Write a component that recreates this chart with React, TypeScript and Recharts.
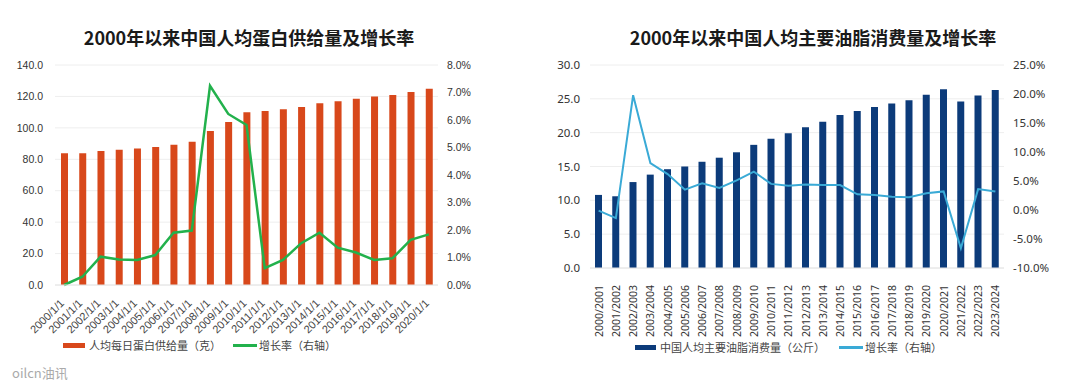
import React from "react"
import {
  ComposedChart,
  Bar,
  Line,
  XAxis,
  YAxis,
  CartesianGrid,
} from "recharts"

// left chart: protein supply per capita
const proteinDates = [
  "2000/1/1", "2001/1/1", "2002/1/1", "2003/1/1", "2004/1/1", "2005/1/1", "2006/1/1",
  "2007/1/1", "2008/1/1", "2009/1/1", "2010/1/1", "2011/1/1", "2012/1/1", "2013/1/1",
  "2014/1/1", "2015/1/1", "2016/1/1", "2017/1/1", "2018/1/1", "2019/1/1", "2020/1/1",
]
const proteinSupply = [
  83.8, 83.8, 85.3, 86.1, 86.8, 87.8, 89.3, 91.2, 98.0, 103.7, 109.9,
  110.7, 111.8, 113.3, 115.6, 116.9, 118.6, 119.9, 120.9, 122.8, 124.9,
]
const proteinGrowth = [
  0.0, 0.3, 1.03, 0.93, 0.91, 1.09, 1.9, 1.98, 7.24, 6.22, 5.82,
  0.61, 0.91, 1.52, 1.9, 1.36, 1.18, 0.91, 0.97, 1.64, 1.84,
]
const proteinLeftTicks = [0, 20, 40, 60, 80, 100, 120, 140]
const proteinRightTicks = [0, 1, 2, 3, 4, 5, 6, 7, 8]

// right chart: edible oil consumption per capita
const oilYears = [
  "2000/2001", "2001/2002", "2002/2003", "2003/2004", "2004/2005", "2005/2006",
  "2006/2007", "2007/2008", "2008/2009", "2009/2010", "2010/2011", "2011/2012",
  "2012/2013", "2013/2014", "2014/2015", "2015/2016", "2016/2017", "2017/2018",
  "2018/2019", "2019/2020", "2020/2021", "2021/2022", "2022/2023", "2023/2024",
]
const oilConsumption = [
  10.8, 10.6, 12.7, 13.8, 14.6, 15.0, 15.7, 16.3, 17.1, 18.2, 19.1, 19.9,
  20.8, 21.6, 22.6, 23.2, 23.8, 24.3, 24.8, 25.6, 26.4, 24.6, 25.5, 26.3,
]
const oilGrowth = [
  -0.1, -1.4, 19.8, 8.1, 6.2, 3.5, 4.6, 3.8, 5.1, 6.6, 4.5, 4.2,
  4.4, 4.3, 4.3, 2.7, 2.6, 2.3, 2.2, 2.9, 3.2, -6.6, 3.6, 3.2,
]
const oilLeftTicks = [0, 5, 10, 15, 20, 25, 30]
const oilRightTicks = [-10, -5, 0, 5, 10, 15, 20, 25]

const proteinData = proteinDates.map((d, i) => ({
  name: d,
  supply: proteinSupply[i],
  growth: proteinGrowth[i],
}))
const oilData = oilYears.map((d, i) => ({
  name: d,
  amount: oilConsumption[i],
  growth: oilGrowth[i],
}))

const ORANGE = "#d8481b"
const GREEN = "#22b14c"
const NAVY = "#0c3b7a"
const SKY = "#3aaad6"

const DiagTick = (props: any) => {
  const { x, y, payload } = props
  return (
    <g transform={`translate(${x - 2},${y + 8})`}>
      <text
        transform="rotate(-45)"
        textAnchor="end"
        dominantBaseline="central"
        fontSize={11}
        fill="#444"
        fontFamily="Liberation Sans, Arial, sans-serif"
      >
        {payload.value}
      </text>
    </g>
  )
}

const VertTick = (props: any) => {
  const { x, y, payload } = props
  return (
    <g transform={`translate(${x},${y + 9})`}>
      <text
        transform="rotate(-90)"
        textAnchor="end"
        dominantBaseline="central"
        fontSize={10.5}
        fill="#333"
        fontFamily="Noto Sans, sans-serif"
      >
        {payload.value}
      </text>
    </g>
  )
}

const titleStyle: React.CSSProperties = {
  position: "absolute",
  top: 24,
  fontFamily: "'Noto Sans CJK SC', sans-serif",
  fontWeight: 700,
  fontSize: 18,
  color: "#1a1a1a",
  whiteSpace: "nowrap",
  transform: "translateX(-50%)",
  lineHeight: "26px",
}

const legendText: React.CSSProperties = {
  fontFamily: "'Noto Sans CJK SC', sans-serif",
  fontSize: 11,
  color: "#444",
  whiteSpace: "nowrap",
}

export default function App() {
  return (
    <div
      style={{
        position: "absolute",
        left: 0,
        top: 0,
        width: 1080,
        height: 387,
        background: "#fff",
        overflow: "hidden",
      }}
    >
      <div style={{ ...titleStyle, left: 249 }}>2000年以来中国人均蛋白供给量及增长率</div>
      <div style={{ ...titleStyle, left: 813 }}>2000年以来中国人均主要油脂消费量及增长率</div>

      {/* Left chart */}
      <div style={{ position: "absolute", left: 0, top: 0 }}>
        <ComposedChart
          width={540}
          height={387}
          data={proteinData}
          margin={{ top: 65, right: 52, bottom: 57, left: 0 }}
          barCategoryGap="60%"
        >
          <CartesianGrid vertical={false} stroke="#eeeeee" yAxisId="left" />
          <XAxis
            dataKey="name"
            interval={0}
            height={45}
            tickLine={false}
            axisLine={{ stroke: "#e4e4e4" }}
            tick={<DiagTick />}
          />
          <YAxis
            yAxisId="left"
            width={55}
            domain={[0, 140]}
            ticks={proteinLeftTicks}
            tickFormatter={(v: number) => v.toFixed(1)}
            axisLine={false}
            tickLine={false}
            tickSize={0}
            tickMargin={12}
            tick={{ fontSize: 10.5, fill: "#333", fontFamily: "Liberation Sans, Arial, sans-serif" }}
          />
          <YAxis
            yAxisId="right"
            orientation="right"
            width={50}
            domain={[0, 8]}
            ticks={proteinRightTicks}
            tickFormatter={(v: number) => v.toFixed(1) + "%"}
            axisLine={false}
            tickLine={false}
            tickSize={0}
            tickMargin={9}
            tick={{ fontSize: 10.5, fill: "#333", fontFamily: "Liberation Sans, Arial, sans-serif" }}
          />
          <Bar yAxisId="left" dataKey="supply" fill={ORANGE} barSize={7} isAnimationActive={false} />
          <Line
            yAxisId="right"
            dataKey="growth"
            stroke={GREEN}
            strokeWidth={2.5}
            dot={false}
            type="linear"
            isAnimationActive={false}
          />
        </ComposedChart>
      </div>

      {/* Right chart */}
      <div style={{ position: "absolute", left: 540, top: 0 }}>
        <ComposedChart
          width={540}
          height={387}
          data={oilData}
          margin={{ top: 65, right: 16, bottom: 54, left: 0 }}
          barCategoryGap="58%"
        >
          <CartesianGrid vertical={false} stroke="#eeeeee" yAxisId="left" />
          <XAxis
            dataKey="name"
            interval={0}
            height={65}
            tickLine={false}
            axisLine={{ stroke: "#e4e4e4" }}
            tick={<VertTick />}
          />
          <YAxis
            yAxisId="left"
            width={50}
            domain={[0, 30]}
            ticks={oilLeftTicks}
            tickFormatter={(v: number) => v.toFixed(1)}
            axisLine={false}
            tickLine={false}
            tickSize={0}
            tickMargin={10}
            tick={{ fontSize: 11.5, fill: "#333", fontFamily: "Noto Sans, sans-serif" }}
          />
          <YAxis
            yAxisId="right"
            orientation="right"
            width={60}
            domain={[-10, 25]}
            ticks={oilRightTicks}
            tickFormatter={(v: number) => v.toFixed(1) + "%"}
            axisLine={false}
            tickLine={false}
            tickSize={0}
            tickMargin={9}
            tick={{ fontSize: 11.5, fill: "#333", fontFamily: "Noto Sans, sans-serif" }}
          />
          <Bar yAxisId="left" dataKey="amount" fill={NAVY} barSize={7} isAnimationActive={false} />
          <Line
            yAxisId="right"
            dataKey="growth"
            stroke={SKY}
            strokeWidth={2}
            dot={false}
            type="linear"
            isAnimationActive={false}
          />
        </ComposedChart>
      </div>

      {/* Left legend */}
      <div style={{ position: "absolute", left: 63, top: 337, display: "flex", alignItems: "center" }}>
        <div style={{ width: 22, height: 5, background: ORANGE, marginRight: 4 }} />
        <span style={legendText}>人均每日蛋白供给量（克）</span>
        <div style={{ width: 24, height: 3, background: GREEN, marginLeft: 12, marginRight: 2 }} />
        <span style={legendText}>增长率（右轴）</span>
      </div>

      {/* Right legend */}
      <div style={{ position: "absolute", left: 635, top: 339, display: "flex", alignItems: "center" }}>
        <div style={{ width: 21, height: 5, background: NAVY, marginRight: 4 }} />
        <span style={legendText}>中国人均主要油脂消费量（公斤）</span>
        <div style={{ width: 24, height: 3, background: SKY, marginLeft: 14, marginRight: 2 }} />
        <span style={legendText}>增长率（右轴）</span>
      </div>

      <div
        style={{
          position: "absolute",
          left: 12,
          top: 363,
          fontFamily: "'Noto Sans CJK SC', sans-serif",
          fontSize: 13,
          color: "#aaa",
        }}
      >
        oilcn油讯
      </div>
    </div>
  )
}
